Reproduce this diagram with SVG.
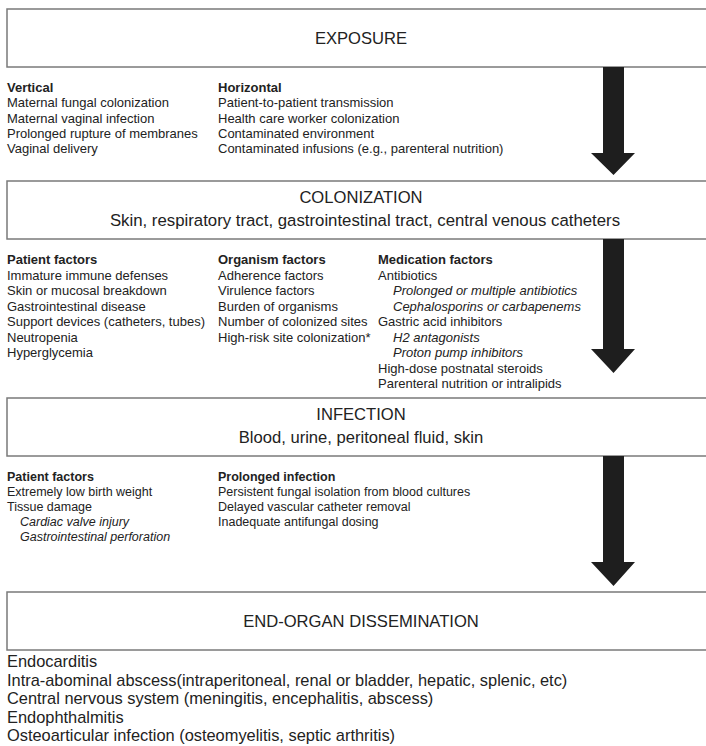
<svg xmlns="http://www.w3.org/2000/svg" width="706" height="746" viewBox="0 0 706 746">
  <style>
    .box { fill: #ffffff; stroke: #7a7a7a; stroke-width: 1.5; }
    .arrow { fill: #1e1e1e; }
    text { font-family: "Liberation Sans", Arial, Helvetica, sans-serif; fill: #222222; }
    .title { font-size: 16.6px; text-anchor: middle; }
    .sec { font-size: 13px; }
    .sec2 { font-size: 12.5px; }
    .hd { font-weight: bold; }
    .it { font-style: italic; }
    .list { font-size: 16.4px; }
  </style>
  <rect width="706" height="746" fill="#ffffff"/>

  <!-- stage boxes run past the right edge of the page -->
  <g id="exposure">
    <rect class="box" x="7" y="9" width="712" height="58"/>
    <text class="title" x="361" y="44">EXPOSURE</text>
  </g>

  <g id="exposure-factors">
    <text class="sec hd" x="7" y="92">Vertical</text>
    <text class="sec" x="7" y="107.3">Maternal fungal colonization</text>
    <text class="sec" x="7" y="122.6">Maternal vaginal infection</text>
    <text class="sec" x="7" y="137.9">Prolonged rupture of membranes</text>
    <text class="sec" x="7" y="153.2">Vaginal delivery</text>
    <text class="sec hd" x="218" y="92">Horizontal</text>
    <text class="sec" x="218" y="107.3">Patient-to-patient transmission</text>
    <text class="sec" x="218" y="122.6">Health care worker colonization</text>
    <text class="sec" x="218" y="137.9">Contaminated environment</text>
    <text class="sec" x="218" y="153.2">Contaminated infusions (e.g., parenteral nutrition)</text>
  </g>

  <g id="colonization">
    <rect class="box" x="7" y="181" width="712" height="58"/>
    <text class="title" x="361" y="203">COLONIZATION</text>
    <text class="title" x="365" y="225.5" style="font-size:16.8px">Skin, respiratory tract, gastrointestinal tract, central venous catheters</text>
  </g>

  <g id="colonization-factors">
    <text class="sec hd" x="7" y="264">Patient factors</text>
    <text class="sec" x="7" y="279.5">Immature immune defenses</text>
    <text class="sec" x="7" y="295">Skin or mucosal breakdown</text>
    <text class="sec" x="7" y="310.5">Gastrointestinal disease</text>
    <text class="sec" x="7" y="326">Support devices (catheters, tubes)</text>
    <text class="sec" x="7" y="341.5">Neutropenia</text>
    <text class="sec" x="7" y="357">Hyperglycemia</text>

    <text class="sec hd" x="218" y="264">Organism factors</text>
    <text class="sec" x="218" y="279.5">Adherence factors</text>
    <text class="sec" x="218" y="295">Virulence factors</text>
    <text class="sec" x="218" y="310.5">Burden of organisms</text>
    <text class="sec" x="218" y="326">Number of colonized sites</text>
    <text class="sec" x="218" y="341.5">High-risk site colonization*</text>

    <text class="sec hd" x="378" y="264">Medication factors</text>
    <text class="sec" x="378" y="279.5">Antibiotics</text>
    <text class="sec it" x="393" y="295">Prolonged or multiple antibiotics</text>
    <text class="sec it" x="393" y="310.5">Cephalosporins or carbapenems</text>
    <text class="sec" x="378" y="326">Gastric acid inhibitors</text>
    <text class="sec it" x="393" y="341.5">H2 antagonists</text>
    <text class="sec it" x="393" y="357">Proton pump inhibitors</text>
    <text class="sec" x="378" y="372.5">High-dose postnatal steroids</text>
    <text class="sec" x="378" y="388">Parenteral nutrition or intralipids</text>
  </g>

  <g id="infection">
    <rect class="box" x="7" y="398" width="712" height="58"/>
    <text class="title" x="361" y="420">INFECTION</text>
    <text class="title" x="361" y="443">Blood, urine, peritoneal fluid, skin</text>
  </g>

  <g id="infection-factors">
    <text class="sec2 hd" x="7" y="481">Patient factors</text>
    <text class="sec2" x="7" y="496">Extremely low birth weight</text>
    <text class="sec2" x="7" y="511">Tissue damage</text>
    <text class="sec2 it" x="20" y="526">Cardiac valve injury</text>
    <text class="sec2 it" x="20" y="541">Gastrointestinal perforation</text>
    <text class="sec2 hd" x="218" y="481">Prolonged infection</text>
    <text class="sec2" x="218" y="496">Persistent fungal isolation from blood cultures</text>
    <text class="sec2" x="218" y="511">Delayed vascular catheter removal</text>
    <text class="sec2" x="218" y="526">Inadequate antifungal dosing</text>
  </g>

  <g id="dissemination">
    <rect class="box" x="7" y="592" width="712" height="58"/>
    <text class="title" x="361" y="627">END-ORGAN DISSEMINATION</text>
  </g>

  <g id="dissemination-sites">
    <text class="list" x="7" y="667">Endocarditis</text>
    <text class="list" x="7" y="685.5">Intra-abominal abscess(intraperitoneal, renal or bladder, hepatic, splenic, etc)</text>
    <text class="list" x="7" y="704">Central nervous system (meningitis, encephalitis, abscess)</text>
    <text class="list" x="7" y="722.5">Endophthalmitis</text>
    <text class="list" x="7" y="741">Osteoarticular infection (osteomyelitis, septic arthritis)</text>
  </g>

  <!-- block arrows between stages -->
  <g id="connectors">
    <polygon class="arrow" points="603,67 624,67 624,153 635,153 613.5,175 591,153 603,153"/>
    <polygon class="arrow" points="603,239 624,239 624,349 635,349 613.5,373 591,349 603,349"/>
    <polygon class="arrow" points="603,456 624,456 624,562 635,562 613.5,586 591,562 603,562"/>
  </g>
</svg>
